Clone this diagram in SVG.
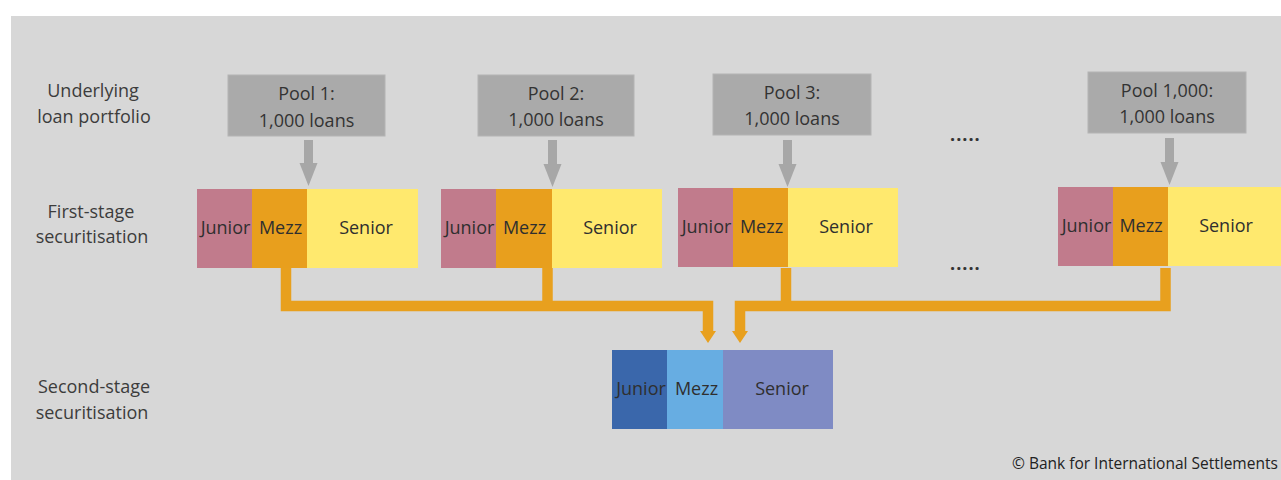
<svg xmlns="http://www.w3.org/2000/svg" width="1281" height="480" viewBox="0 0 1281 480">
<style>
text{font-family:"Open Sans","Noto Sans","Liberation Sans",sans-serif;fill:#333;}
.lbl{font-size:18px;fill:#3c3c3c;text-anchor:middle;}
.pool{font-size:18px;text-anchor:middle;fill:#333;}
.tr{font-size:18px;text-anchor:middle;fill:#2f2f2f;}
.poolbox{fill:#aaaaaa;stroke:#b4b4b4;stroke-width:1;}
.jun{fill:#c17b8c;}
.mez{fill:#e89f1d;}
.sen{fill:#ffe96e;}
.jun2{fill:#3a67ab;}
.mez2{fill:#67ade2;}
.sen2{fill:#7f8bc4;}
.garrow{fill:#a7a7a7;}
.oline{fill:none;stroke:#e8a01e;stroke-width:10.5;stroke-linejoin:miter;stroke-linecap:butt;}
.ohead{fill:#e8a01e;}
.dots{font-size:18px;fill:#333;letter-spacing:1px;font-weight:bold;}
</style>
<rect x="0" y="0" width="1281" height="480" fill="#ffffff"/>
<rect x="11" y="16" width="1270" height="464" fill="#d7d7d7"/>

<g id="row-labels">
<text class="lbl" x="93" y="97">Underlying</text>
<text class="lbl" x="94" y="123">loan portfolio</text>
<text class="lbl" x="91" y="218">First-stage</text>
<text class="lbl" x="92" y="243">securitisation</text>
<text class="lbl" x="94" y="393">Second-stage</text>
<text class="lbl" x="92" y="419">securitisation</text>
</g>

<g id="pool1">
<rect class="poolbox" x="228" y="75" width="157" height="61"/>
<text class="pool" x="306.5" y="100">Pool 1:</text>
<text class="pool" x="306.5" y="127">1,000 loans</text>
</g>
<g id="pool2">
<rect class="poolbox" x="478" y="75" width="156" height="61"/>
<text class="pool" x="556" y="100">Pool 2:</text>
<text class="pool" x="556" y="126">1,000 loans</text>
</g>
<g id="pool3">
<rect class="poolbox" x="713" y="74" width="158" height="61"/>
<text class="pool" x="792" y="99">Pool 3:</text>
<text class="pool" x="792" y="125">1,000 loans</text>
</g>
<g id="pool1000">
<rect class="poolbox" x="1088" y="72" width="158" height="61"/>
<text class="pool" x="1167" y="97">Pool 1,000:</text>
<text class="pool" x="1167" y="123">1,000 loans</text>
</g>

<g id="ellipsis">
<text class="dots" x="950" y="141">.....</text>
<text class="dots" x="950" y="270">.....</text>
</g>

<g id="first-stage-1">
<rect class="jun" x="197" y="189" width="55" height="79"/>
<rect class="mez" x="252" y="189" width="55" height="79"/>
<rect class="sen" x="307" y="189" width="111" height="79"/>
<text class="tr" x="225.5" y="234">Junior</text>
<text class="tr" x="280.5" y="234">Mezz</text>
<text class="tr" x="366" y="234">Senior</text>
</g>
<g id="first-stage-2">
<rect class="jun" x="441" y="189" width="55" height="79"/>
<rect class="mez" x="496" y="189" width="56" height="79"/>
<rect class="sen" x="552" y="189" width="110" height="79"/>
<text class="tr" x="469.5" y="234">Junior</text>
<text class="tr" x="524.5" y="234">Mezz</text>
<text class="tr" x="610" y="234">Senior</text>
</g>
<g id="first-stage-3">
<rect class="jun" x="678" y="188" width="55" height="79"/>
<rect class="mez" x="733" y="188" width="55" height="79"/>
<rect class="sen" x="788" y="188" width="110" height="79"/>
<text class="tr" x="706.5" y="233">Junior</text>
<text class="tr" x="761.5" y="233">Mezz</text>
<text class="tr" x="846" y="233">Senior</text>
</g>
<g id="first-stage-1000">
<rect class="jun" x="1058" y="187" width="55" height="79"/>
<rect class="mez" x="1113" y="187" width="55" height="79"/>
<rect class="sen" x="1168" y="187" width="113" height="79"/>
<text class="tr" x="1086.5" y="232">Junior</text>
<text class="tr" x="1141" y="232">Mezz</text>
<text class="tr" x="1226" y="232">Senior</text>
</g>

<g id="second-stage">
<rect class="jun2" x="612" y="350" width="55" height="79"/>
<rect class="mez2" x="667" y="350" width="56" height="79"/>
<rect class="sen2" x="723" y="350" width="110" height="79"/>
<text class="tr" x="641" y="395">Junior</text>
<text class="tr" x="696.5" y="395">Mezz</text>
<text class="tr" x="782" y="395">Senior</text>
</g>

<g id="connectors">
<polygon class="garrow" points="304,140 313,140 313,163 317.5,163 308.5,186 299.5,163 304,163"/>
<polygon class="garrow" points="548,140 557,140 557,164 561.5,164 552.5,187 543.5,164 548,164"/>
<polygon class="garrow" points="783,140 792,140 792,164 796.5,164 787.5,187 778.5,164 783,164"/>
<polygon class="garrow" points="1165,138 1174,138 1174,162 1178.5,162 1169.5,185 1160.5,162 1165,162"/>

<path class="oline" d="M286,268 V306 H708 V333"/>
<path class="oline" d="M547.5,268 V306"/>
<path class="oline" d="M1165.5,268 V306 H740 V333"/>
<path class="oline" d="M786,268 V306"/>
<polygon class="ohead" points="700,331 716,331 708,343"/>
<polygon class="ohead" points="732,331 748,331 740,343"/>
</g>

<g id="credit">
<text x="1012" y="469" style="font-size:15.5px;fill:#222;">© Bank for International Settlements</text>
</g>
</svg>
